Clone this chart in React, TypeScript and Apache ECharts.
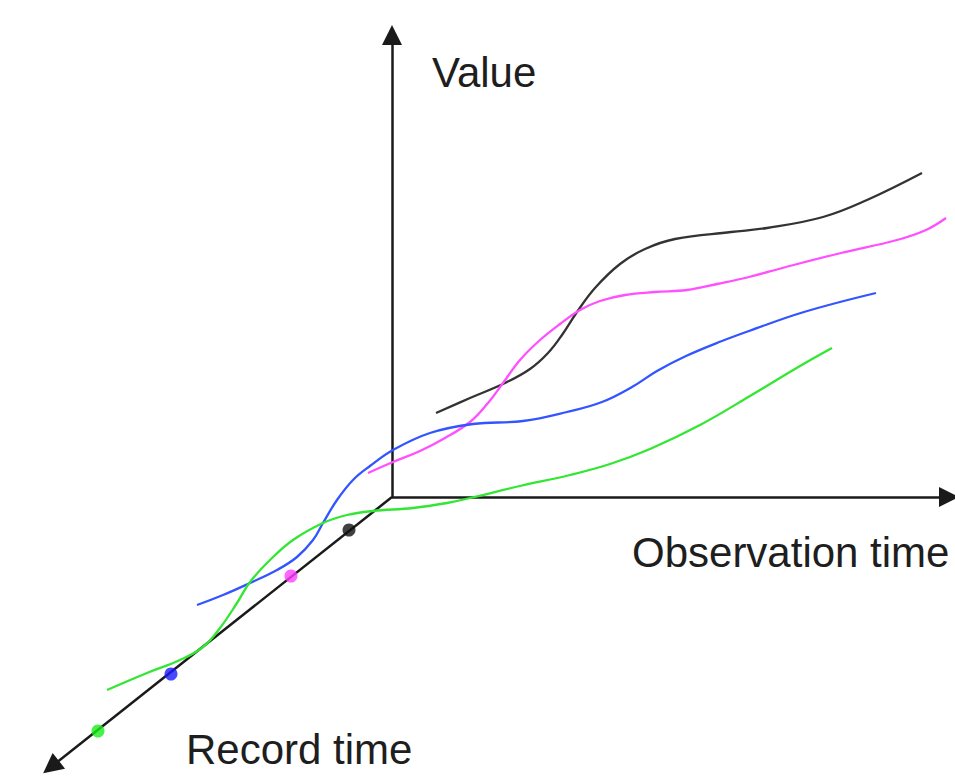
import React, { useEffect, useRef } from "react";
import * as echarts from "echarts";

// Diagram coordinates: origin at the junction of the three axes,
// x grows to the right (observation time), y grows upward (value).
const blackCurve = [
  [44, 84], [78, 99], [113, 114], [138, 128], [156, 144], [170, 162], [185, 185],
  [203, 209], [228, 233], [253, 248], [283, 258], [339, 265], [375, 269], [431, 280],
  [475, 297], [530, 324],
];
const magentaCurve = [
  [-24, 24], [1, 35], [28, 46], [53, 59], [78, 75], [96, 94], [111, 114], [128, 137],
  [148, 157], [168, 173], [188, 187], [208, 196], [233, 202], [263, 205], [295, 207],
  [325, 213], [357, 220], [394, 230], [449, 244], [505, 257], [534, 267], [554, 279],
];
const blueCurve = [
  [-195, -108], [-169, -98], [-142, -86], [-115, -73], [-95, -60], [-79, -43], [-69, -26],
  [-55, -3], [-39, 17], [-22, 31], [1, 47], [38, 64], [81, 73], [131, 76], [175, 85],
  [210, 95], [240, 110], [265, 126], [294, 141], [330, 156], [357, 166], [412, 185],
  [484, 204],
];
const greenCurve = [
  [-285, -193], [-245, -176], [-212, -163], [-189, -150], [-172, -131], [-155, -106],
  [-142, -85], [-122, -63], [-99, -43], [-69, -26], [-45, -18], [-19, -14], [21, -11],
  [55, -6], [78, -1], [128, 11], [178, 22], [218, 33], [258, 48], [308, 72], [358, 101],
  [408, 131], [440, 149],
];

const axisOrigin = [0, 0];
const axisEnds = [
  [0, 462],      // Value
  [557, 0],      // Observation time
  [-341, -270],  // Record time
];
const recordDots = [[-43, -33], [-101, -79], [-221, -177], [-294, -234]];
const axisNames = ["Value", "Observation time", "Record time"];

const curveColors = ["#333333", "#ff4fff", "#3355ff", "#33e633"];
const dotColors = ["#111111", "#ff3dff", "#1a1aff", "#1aee1a"];
const labelPositions = [
  [432, 72],
  [632, 552],
  [186, 749],
];

export default function App() {
  const ref = useRef<HTMLDivElement>(null);

  useEffect(() => {
    document.body.style.margin = "0";
    if (!ref.current) return;
    const chart = echarts.init(ref.current, undefined, { renderer: "svg" });
    const curves = [blackCurve, magentaCurve, blueCurve, greenCurve];
    const option = {
      animation: false,
      grid: { left: 0, right: 0, top: 0, bottom: 0, containLabel: false },
      xAxis: { type: "value", min: -392, max: 563, show: false },
      yAxis: { type: "value", min: -286, max: 497, show: false },
      tooltip: { show: false },
      graphic: axisNames.map((name, i) => ({
        type: "text",
        x: labelPositions[i][0],
        y: labelPositions[i][1],
        style: {
          text: name,
          fontSize: 42,
          fontFamily: "'Liberation Sans', Arial, Helvetica, sans-serif",
          fill: "#1e1e1e",
          verticalAlign: "middle",
          align: "left",
        },
      })),
      series: [
        {
          type: "lines",
          coordinateSystem: "cartesian2d",
          symbol: ["none", "triangle"],
          symbolSize: 20,
          lineStyle: { color: "#1a1a1a", width: 2.5, opacity: 1, curveness: 0 },
          silent: true,
          z: 1,
          data: axisEnds.map((end) => ({ coords: [axisOrigin, end] })),
        },
        ...curves.map((data, i) => ({
          type: "line",
          data,
          smooth: 0.4,
          showSymbol: false,
          symbol: "none",
          lineStyle: { color: curveColors[i], width: 2.3 },
          silent: true,
          z: 2,
        })),
        {
          type: "scatter",
          symbolSize: 13,
          silent: true,
          z: 3,
          data: recordDots.map((p, i) => ({
            value: p,
            itemStyle: { color: dotColors[i] },
          })),
        },
      ],
    };
    chart.setOption(option as any);
    return () => chart.dispose();
  }, []);

  return <div ref={ref} style={{ width: 955, height: 783, background: "#ffffff" }} />;
}
